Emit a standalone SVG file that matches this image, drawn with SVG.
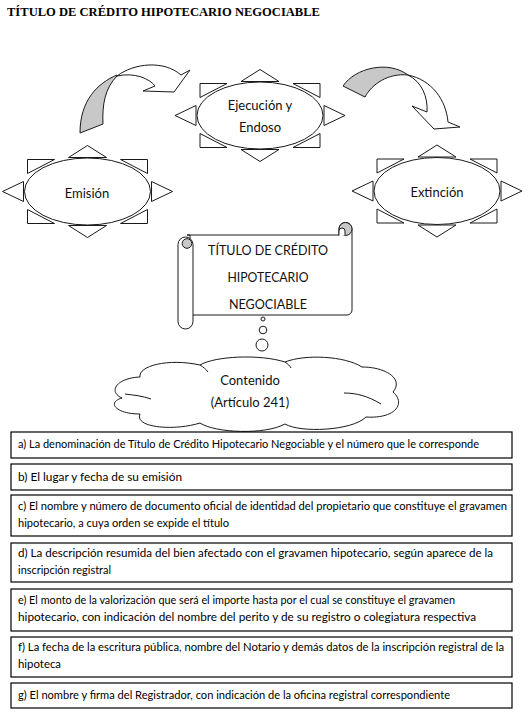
<svg xmlns="http://www.w3.org/2000/svg" xmlns:xlink="http://www.w3.org/1999/xlink" width="532" height="715" viewBox="0 0 532 715">
<style>
.bg{fill:#ffffff}
.ln{fill:#ffffff;stroke:#1a1a1a;stroke-width:1}
.gray{fill:#c8c8c8;stroke:#1a1a1a;stroke-width:1}
.box{fill:#ffffff;stroke:#000000;stroke-width:1.2}
.title{font-family:"Liberation Serif","Times New Roman",serif;font-weight:bold;font-size:13.5px;fill:#000}
.node{font-family:Lato,"Liberation Sans",Arial,sans-serif;font-size:13px;fill:#111;text-anchor:middle}
.item{font-family:Lato,"Liberation Sans",Arial,sans-serif;font-size:11px;fill:#000}
</style>
<defs>
<g id="sun">
<path class="ln" d="M0,-46 L19,-34 L-19,-34 Z M0,46 L19,34 L-19,34 Z M-85,0 L-64,-10 L-64,10 Z M85,0 L64,-10 L64,10 Z M-60,-32 L-33,-32 L-60,-18 Z M60,-32 L33,-32 L60,-18 Z M-60,32 L-33,32 L-60,18 Z M60,32 L33,32 L60,18 Z"/>
<ellipse class="ln" cx="0" cy="0" rx="63" ry="33.5"/>
</g>
</defs>
<rect class="bg" x="0" y="0" width="532" height="715"/>
<text class="title" x="7" y="16" textLength="313" lengthAdjust="spacingAndGlyphs">TÍTULO DE CRÉDITO HIPOTECARIO NEGOCIABLE</text>

<g id="connectors">
<path class="gray" d="M117,75 C98,83 80,100 80,133 L103,124 C102,105 105,88 117,76 Z"/>
<path class="ln" d="M117,76 C134,63 164,60 181,75 L190,70 L174,92 L143,91 L155,86 C150,79 135,72 117,76 Z"/>
<path class="gray" d="M343,86 C355,68 388,60 408,75 C388,73 372,84 365,97 Z"/>
<path class="ln" d="M408,75 C432,80 446,100 448,122 L460,127 L434,129 L412,106 L427,112 C428,97 422,82 408,75 Z"/>
<circle class="ln" cx="263" cy="319" r="2"/>
<circle class="ln" cx="263" cy="330" r="3.8"/>
<circle class="ln" cx="262" cy="345" r="6"/>
</g>

<g id="node-ejecucion">
<use xlink:href="#sun" href="#sun" x="260" y="115.5"/>
<text class="node" x="260" y="110">Ejecución y</text>
<text class="node" x="260" y="132">Endoso</text>
</g>

<g id="node-emision">
<use xlink:href="#sun" href="#sun" x="87.5" y="191.5"/>
<text class="node" x="87" y="198">Emisión</text>
</g>

<g id="node-extincion">
<use xlink:href="#sun" href="#sun" x="437" y="191"/>
<text class="node" x="437" y="197">Extinción</text>
</g>

<g id="node-titulo">
<path class="ln" d="M187,235 H339 V229 A6.5,6.5 0 0 1 352,229 V310 A5,5 0 0 1 347,315 H190 V235 Z"/>
<circle class="gray" cx="345.5" cy="229" r="6.5"/>
<path class="ln" d="M339,235.5 V231 A3,3 0 0 1 345,231 V235.5"/>
<rect class="ln" x="178" y="237" width="15" height="92" rx="7.5" ry="7.5"/>
<circle class="gray" cx="187" cy="243.5" r="4.8"/>
<text class="node" x="268" y="255" textLength="120" lengthAdjust="spacingAndGlyphs">TÍTULO DE CRÉDITO</text>
<text class="node" x="268" y="282" textLength="81" lengthAdjust="spacingAndGlyphs">HIPOTECARIO</text>
<text class="node" x="268" y="309" textLength="78" lengthAdjust="spacingAndGlyphs">NEGOCIABLE</text>
</g>

<g id="node-contenido">
<path class="ln" d="M122,398 C108,392 116,378 140,377 C138,366 168,358 200,365 C215,356 260,354 285,362 C305,354 345,356 362,367 C386,367 404,379 393,392 C406,403 396,419 366,417 C352,431 300,433 285,424 C265,435 215,433 200,423 C175,431 134,428 140,414 C115,414 107,402 122,398 Z"/>
<path class="ln" style="fill:none" d="M125,394 C133,395 143,396 151,399 M344,393 C356,393 368,396 381,404 M200,365 C203,367 206,369 208,372 M285,362 C288,364 290,366 291,368"/>
<text class="node" x="250" y="385">Contenido</text>
<text class="node" x="250" y="407">(Artículo 241)</text>
</g>

<g id="item-a">
<rect class="box" x="11" y="432" width="501" height="26"/>
<text class="item" x="18" y="448" textLength="461" lengthAdjust="spacingAndGlyphs">a) La denominación de Título de Crédito Hipotecario Negociable y el número que le corresponde</text>
</g>
<g id="item-b">
<rect class="box" x="11" y="464" width="501" height="26"/>
<text class="item" x="18" y="481" textLength="164" lengthAdjust="spacingAndGlyphs">b) El lugar y fecha de su emisión</text>
</g>
<g id="item-c">
<rect class="box" x="11" y="495" width="501" height="41"/>
<text class="item" x="18" y="510" textLength="489" lengthAdjust="spacingAndGlyphs">c) El nombre y número de documento oficial de identidad del propietario que constituye el gravamen</text>
<text class="item" x="18" y="527" textLength="211" lengthAdjust="spacingAndGlyphs">hipotecario, a cuya orden se expide el título</text>
</g>
<g id="item-d">
<rect class="box" x="11" y="543" width="501" height="39"/>
<text class="item" x="18" y="557" textLength="475" lengthAdjust="spacingAndGlyphs">d) La descripción resumida del bien afectado con el gravamen hipotecario, según aparece de la</text>
<text class="item" x="18" y="574" textLength="93" lengthAdjust="spacingAndGlyphs">inscripción registral</text>
</g>
<g id="item-e">
<rect class="box" x="11" y="589" width="501" height="42"/>
<text class="item" x="18" y="604" textLength="437" lengthAdjust="spacingAndGlyphs">e) El monto de la valorización que será el importe hasta por el cual se constituye el gravamen</text>
<text class="item" x="18" y="621" textLength="458" lengthAdjust="spacingAndGlyphs">hipotecario, con indicación del nombre del perito y de su registro o colegiatura respectiva</text>
</g>
<g id="item-f">
<rect class="box" x="11" y="637" width="501" height="40"/>
<text class="item" x="18" y="651" textLength="486" lengthAdjust="spacingAndGlyphs">f) La fecha de la escritura pública, nombre del Notario y demás datos de la inscripción registral de la</text>
<text class="item" x="18" y="668" textLength="43" lengthAdjust="spacingAndGlyphs">hipoteca</text>
</g>
<g id="item-g">
<rect class="box" x="11" y="683" width="501" height="25"/>
<text class="item" x="18" y="699" textLength="432" lengthAdjust="spacingAndGlyphs">g) El nombre y firma del Registrador, con indicación de la oficina registral correspondiente</text>
</g>
</svg>
